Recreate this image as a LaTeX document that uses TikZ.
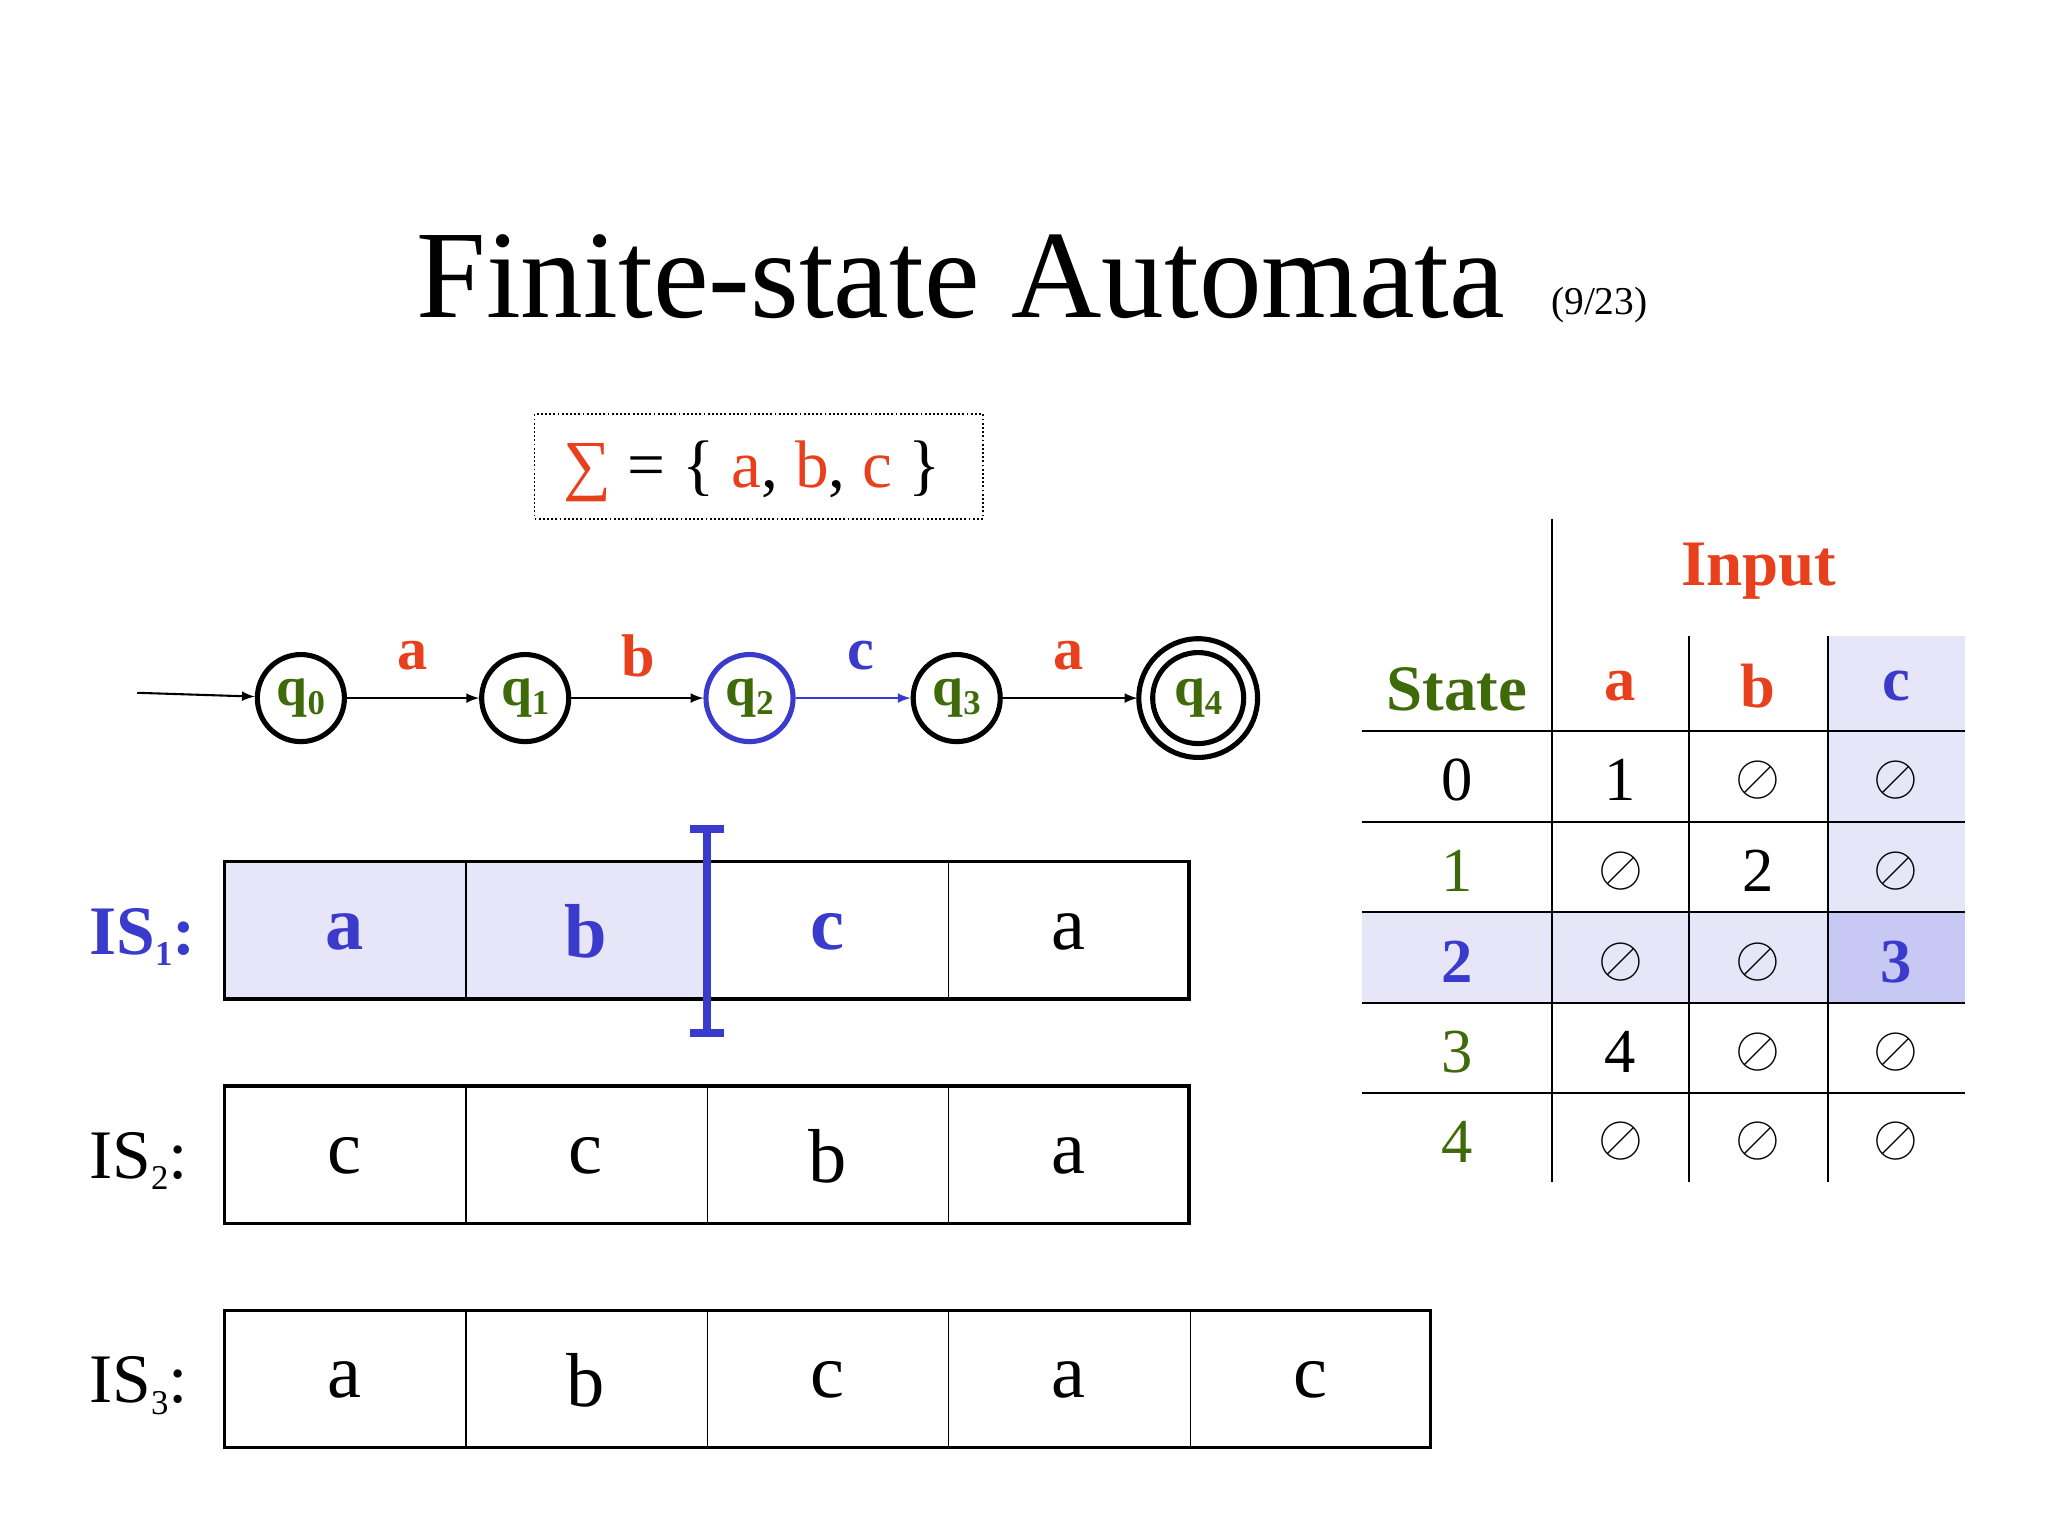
\documentclass[tikz,border=0pt]{standalone}
\usepackage{fontspec}
\setmainfont{Liberation Serif}
\definecolor{rd}{HTML}{E8401C}
\definecolor{gr}{HTML}{3F6A0A}
\definecolor{bl}{HTML}{3A3ACC}
\definecolor{lb}{HTML}{E6E6F8}
\definecolor{db}{HTML}{C8C8F4}
\newcommand{\mysub}[1]{\raisebox{-0.35ex}{\fontsize{15}{15}\selectfont #1}}
\begin{document}
\begin{tikzpicture}[x=0.02cm,y=-0.02cm,
  st/.style={circle,draw,line width=2.2pt,minimum size=1.32cm,inner sep=0pt,font=\fontsize{24}{24}\selectfont\bfseries,text=gr},
  ed/.style={-latex,line width=0.9pt},
  el/.style={font=\fontsize{26}{26}\selectfont\bfseries},
  cell/.style={font=\fontsize{33}{33}\selectfont},
  tb/.style={font=\fontsize{27}{27}\selectfont},
  lab/.style={font=\fontsize{32}{32}\selectfont,anchor=center}]
\useasboundingbox (0,0) rectangle (1552,1164);
\node[font=\fontsize{54}{54}\selectfont] (title) at (728,210) {Finite-state Automata};
\node[font=\fontsize{17}{17}\selectfont] (pg) at (1212,231) {(9/23)};
\draw[densely dotted,line width=0.8pt] (405,314) rectangle (745,393);
\node[font=\fontsize{29}{29}\selectfont] (sig) at (570,357) {\textcolor{rd}{∑} = \{ \textcolor{rd}{a}, \textcolor{rd}{b}, \textcolor{rd}{c} \}};
% automaton
\node[st] (q0) at (228,529) {q\mysub{0}};
\node[st] (q1) at (398,529) {q\mysub{1}};
\node[st,draw=bl] (q2) at (568,529) {q\mysub{2}};
\node[st] (q3) at (725,529) {q\mysub{3}};
\node[st,minimum size=1.38cm] (q4) at (908,529) {q\mysub{4}};
\draw[line width=2.2pt] (q4.center) circle (0.9cm);
\coordinate (s) at (104,525);
\draw[ed] (s) -- (q0);
\draw[ed] (q0) -- (q1); \draw[ed] (q1) -- (q2);
\draw[ed,draw=bl] (q2) -- (q3); \draw[ed] (q3) -- (862,529);
\node[el,text=rd] at (313,497) {a};
\node[el,text=rd] at (484,497) {b};
\node[el,text=bl] at (652,497) {c};
\node[el,text=rd] at (810,497) {a};
% IS1
\fill[lb] (170,653) rectangle (536,757);
\foreach \x in {353,536,719} \draw[line width=0.6pt] (\x,653) -- (\x,757);
\draw[line width=1.5pt] (170,653) rectangle (901,757);
\node[cell,font=\fontsize{33}{33}\selectfont\bfseries,text=bl] at (261,706) {a};
\node[cell,font=\fontsize{33}{33}\selectfont\bfseries,text=bl] at (444,706) {b};
\node[cell,font=\fontsize{33}{33}\selectfont\bfseries,text=bl] at (627,706) {c};
\node[cell] at (810,706) {a};
\draw[bl,line width=3.5pt] (536,628) -- (536,783) (523,628) -- (549,628) (523,783) -- (549,783);
\node[lab,font=\fontsize{30}{30}\selectfont\bfseries,text=bl] (is1) at (108,710) {IS\mysub{1}:};
% IS2
\foreach \x in {353,536,719} \draw[line width=0.6pt] (\x,823) -- (\x,927);
\draw[line width=1.5pt] (170,823) rectangle (901,927);
\foreach \x/\t in {261/c,444/c,627/b,810/a} \node[cell] at (\x,876) {\t};
\node[lab,font=\fontsize{30}{30}\selectfont] (is2) at (105,880) {IS\mysub{2}:};
% IS3
\foreach \x in {353,536,719,902} \draw[line width=0.6pt] (\x,993) -- (\x,1097);
\draw[line width=1.5pt] (170,993) rectangle (1084,1097);
\foreach \x/\t in {261/a,444/b,627/c,810/a,993/c} \node[cell] at (\x,1046) {\t};
\node[lab,font=\fontsize{30}{30}\selectfont] (is3) at (105,1050) {IS\mysub{3}:};
% table
\fill[lb] (1385,482) rectangle (1489,760);
\fill[lb] (1032,691) rectangle (1489,760);
\fill[db] (1385,691) rectangle (1489,760);
\draw[line width=0.8pt] (1176,393) -- (1176,896);
\foreach \x in {1280,1385} \draw[line width=0.8pt] (\x,482) -- (\x,896);
\foreach \y in {554,623,691,760,828} \draw[line width=0.8pt] (1032,\y) -- (1489,\y);
\node[font=\fontsize{28}{28}\selectfont\bfseries,text=rd] at (1333,433) {Input};
\node[font=\fontsize{28}{28}\selectfont\bfseries,text=gr] at (1104,522) {State};
\node[font=\fontsize{27}{27}\selectfont\bfseries,text=rd] at (1228,520) {a};
\node[font=\fontsize{27}{27}\selectfont\bfseries,text=rd] at (1332,520) {b};
\node[font=\fontsize{27}{27}\selectfont\bfseries,text=bl] at (1437,520) {c};
\def\E{$\oslash$}
\node[tb] at (1104,591) {0};
\node[tb,text=gr] at (1104,660) {1};
\node[tb,text=bl,font=\fontsize{27}{27}\selectfont\bfseries] at (1104,729) {2};
\node[tb,text=gr] at (1104,797) {3};
\node[tb,text=gr] at (1104,865) {4};
\foreach \x/\a/\b/\c/\d/\e in {1228/1/\E/\E/4/\E, 1332/\E/2/\E/\E/\E, 1437/\E/\E/{}/\E/\E}{
  \node[tb] at (\x,591) {\a};
  \node[tb] at (\x,660) {\b};
  \node[tb] at (\x,729) {\c};
  \node[tb] at (\x,797) {\d};
  \node[tb] at (\x,865) {\e};}
\node[tb,text=bl,font=\fontsize{27}{27}\selectfont\bfseries] at (1437,729) {3};
\end{tikzpicture}
\end{document}
